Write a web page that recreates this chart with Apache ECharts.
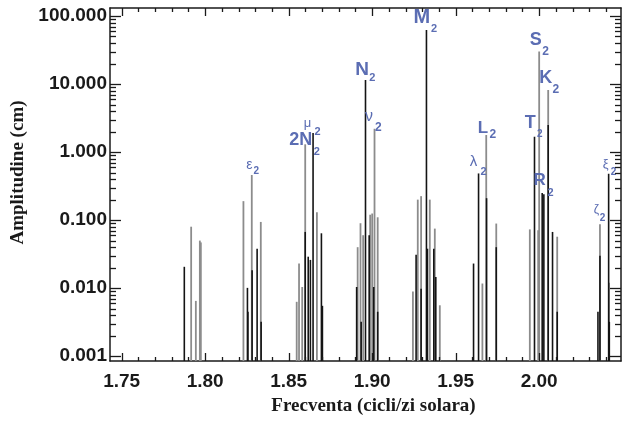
<!DOCTYPE html>
<html>
<head>
<meta charset="utf-8">
<script src="https://cdn.jsdelivr.net/npm/echarts@6/dist/echarts.min.js"></script>
<style>
  html, body { margin: 0; padding: 0; background: #ffffff; }
  #chart { width: 623px; height: 421px; }
</style>
</head>
<body>
<div id="chart"></div>
<script>
// Semidiurnal tidal spectrum: amplitude (cm) against frequency (cycles per solar day)

// Lines of the first (gray) spectrum
const grayFreq = [
  1.7916, 1.7944, 1.7968, 1.7974,
  1.8229, 1.8279, 1.8333,
  1.8548, 1.8562, 1.8581, 1.8599, 1.8669,
  1.8913, 1.8930, 1.8946, 1.8988, 1.9000, 1.9014, 1.9033,
  1.9244, 1.9273, 1.9293, 1.9345, 1.9375, 1.9405,
  1.9660, 1.9683, 1.9743,
  1.9944, 1.9994, 2.0000, 2.0054, 2.0108,
  2.0364, 2.0418
];
const grayAmp = [
  0.080, 0.0065, 0.050, 0.047,
  0.19, 0.46, 0.094,
  0.0063, 0.023, 0.0104, 1.3, 0.13,
  0.04, 0.09, 0.06, 0.12, 0.125, 2.2, 0.11,
  0.0089, 0.20, 0.225, 0.20, 0.075, 0.0056,
  0.0117, 1.78, 0.089,
  0.073, 0.071, 30, 8.2, 0.057,
  0.087, 0.012
];

// Lines of the second (black) spectrum
const blackFreq = [
  1.7875,
  1.8253, 1.8256, 1.8281, 1.8311, 1.8335,
  1.8599, 1.8617, 1.8630, 1.8646, 1.8696, 1.8702,
  1.8907, 1.8934, 1.8960, 1.8982, 1.9009, 1.9033,
  1.9263, 1.9293, 1.9325, 1.9331, 1.9369, 1.9381,
  1.9607, 1.9637, 1.9685, 1.9743,
  1.9972, 2.0018, 2.0028, 2.0054, 2.0080, 2.0108,
  2.0352, 2.0364, 2.0416, 2.0420
];
const blackAmp = [
  0.0206,
  0.0101, 0.0045, 0.0184, 0.038, 0.0032,
  0.067, 0.029, 0.026, 1.9, 0.064, 0.0055,
  0.0104, 0.0032, 11.5, 0.06, 0.0104, 0.0045,
  0.031, 0.0098, 62, 0.038, 0.038, 0.0146,
  0.023, 0.485, 0.21, 0.04,
  1.68, 0.25, 0.24, 2.5, 0.067, 0.0045,
  0.0045, 0.03, 0.48, 0.0032
];

// Constituent names, placed above their lines
const constituentSymbols = ['ε', '2N', 'μ', 'N', 'ν', 'M', 'λ', 'L', 'T', 'S', 'K', 'R', 'ζ', 'ξ'];
const constituentIndex   = ['2', '2', '2', '2', '2', '2', '2', '2', '2', '2', '2', '2', '2', '2'];
const constituentFreq    = [1.8279, 1.8599, 1.8646, 1.8960, 1.9014, 1.9325, 1.9637, 1.9683, 1.9972, 2.0000, 2.0054, 2.0028, 2.0364, 2.0416];
const constituentAmp     = [0.46, 1.3, 1.9, 11.5, 2.2, 62, 0.485, 1.78, 1.68, 30, 8.2, 0.24, 0.087, 0.48];

// Axis ticks and labels
const xTicks = [1.75, 1.80, 1.85, 1.90, 1.95, 2.00];
const xTickLabels = ['1.75', '1.80', '1.85', '1.90', '1.95', '2.00'];
const yTicks = [0.001, 0.01, 0.1, 1, 10, 100];
const yTickLabels = ['0.001', '0.010', '0.100', '1.000', '10.000', '100.000'];

// ---- layout / style ----
const X_MIN = 1.743, X_MAX = 2.049;
const Y_MIN = 0.00085, Y_MAX = 131;
const LABEL_BLUE = '#5b6db3';
const AXIS_COLOR = '#1a1a1a';

// label glyph offsets (px) from the line top: [main dx, main dy, sub dx, sub dy, main size, bold, sub size]
const labelLayout = {
  'ε':  [-2.3, -10, 4.6, -3.3, 14, false, 10],
  '2N': [-4.5, -4, 11.5, 7.5, 18, true, 11],
  'μ':  [-5.6, -10, 4.4, -1.3, 13, false, 11],
  'N':  [-3.5, -10, 6.9, -1.5, 19, true, 11],
  'ν':  [-5.5, -12, 3.7, -1.3, 16, false, 12],
  'M':  [-4.5, -12.5, 7.5, -1.5, 20, true, 11],
  'λ':  [-5, -11.8, 5, -1, 15, false, 11],
  'L':  [-3.3, -7, 6.5, 0, 17, true, 12],
  'T':  [-4.3, -13.4, 5.2, -2.7, 18, true, 10],
  'S':  [-3.5, -11.7, 6.5, 0.3, 18, true, 12],
  'K':  [-2.5, -11.5, 7.7, 0, 18, true, 12],
  'R':  [-4.2, -13.7, 6.6, -1.2, 17, true, 11],
  'ζ':  [-3.5, -15, 2.5, -6, 12, false, 10],
  'ξ':  [-3, -9, 5, -1.3, 13, false, 10]
};

// tick marks on all four sides: x every 0.01, y at 1..9 per decade
const xTickMarks = [];
for (let k = 175; k <= 204; k++) xTickMarks.push(k / 100);
const yTickMarks = [];
for (let e = -3; e <= 2; e++) {
  for (let m = 1; m <= 9; m++) {
    const v = m * Math.pow(10, e);
    if (v > Y_MIN && v < Y_MAX) yTickMarks.push(v);
  }
}
const isMajor = (v, list) => list.some(t => Math.abs(t - v) / t < 1e-6);

const pair = (a, b) => a.map((v, i) => [v, b[i]]);

function stemRenderer(color, width) {
  return function (params, api) {
    const top = api.coord([api.value(0), api.value(1)]);
    const base = api.coord([api.value(0), Y_MIN]);
    return {
      type: 'line',
      shape: { x1: top[0], y1: base[1], x2: top[0], y2: top[1] },
      style: { stroke: color, lineWidth: width }
    };
  };
}

function labelRenderer(params, api) {
  const i = params.dataIndex;
  const sym = constituentSymbols[i];
  const lay = labelLayout[sym];
  const p = api.coord([api.value(0), api.value(1)]);
  const fam = '"Liberation Sans", Arial, sans-serif';
  return {
    type: 'group',
    children: [
      {
        type: 'text',
        x: p[0] + lay[0], y: p[1] + lay[1],
        style: {
          text: sym, fill: LABEL_BLUE,
          font: (lay[5] ? 'bold ' : '') + lay[4] + 'px ' + fam,
          align: 'center', verticalAlign: 'middle'
        }
      },
      {
        type: 'text',
        x: p[0] + lay[2], y: p[1] + lay[3],
        style: {
          text: constituentIndex[i], fill: LABEL_BLUE,
          font: 'bold ' + lay[6] + 'px ' + fam,
          align: 'center', verticalAlign: 'middle'
        }
      }
    ]
  };
}

const tickFont = { color: AXIS_COLOR, fontFamily: '"Liberation Sans", Arial, sans-serif', fontWeight: 'bold', fontSize: 19 };
const titleFont = { color: AXIS_COLOR, fontFamily: '"Liberation Serif", "Times New Roman", serif', fontWeight: 'bold', fontSize: 19 };
const lineStyle = { color: AXIS_COLOR, width: 1.5 };

function xAxisDef(position) {
  return {
    type: 'value', position: position, min: X_MIN, max: X_MAX,
    axisLine: { show: true, onZero: false, lineStyle: lineStyle },
    axisTick: { show: false },
    axisLabel: { show: false },
    splitLine: { show: false }
  };
}
function yAxisDef(position) {
  return {
    type: 'log', logBase: 10, position: position, min: Y_MIN, max: Y_MAX,
    axisLine: { show: true, onZero: false, lineStyle: lineStyle },
    axisTick: { show: false },
    axisLabel: { show: false },
    splitLine: { show: false },
    minorTick: { show: false }
  };
}

const xMain = xAxisDef('bottom');
xMain.axisLabel = Object.assign({
  show: true, margin: 11, customValues: xTicks,
  formatter: v => { const k = xTicks.findIndex(t => Math.abs(t - v) < 1e-9); return k >= 0 ? xTickLabels[k] : ''; }
}, tickFont);
xMain.name = 'Frecventa (cicli/zi solara)';
xMain.nameLocation = 'middle';
xMain.nameGap = 36;
xMain.nameTextStyle = Object.assign({ padding: [0, 0, 0, 16] }, titleFont);

const yMain = yAxisDef('left');
yMain.axisLabel = Object.assign({
  show: true, margin: 3, customValues: yTicks,
  formatter: v => { const k = yTicks.findIndex(t => Math.abs(Math.log10(t) - Math.log10(v)) < 1e-6); return k >= 0 ? yTickLabels[k] : ''; }
}, tickFont);
yMain.name = 'Amplitudine (cm)';
yMain.nameLocation = 'middle';
yMain.nameGap = 80;
yMain.nameTextStyle = Object.assign({ padding: [0, 0, 0, 24] }, titleFont);

const chart = echarts.init(document.getElementById('chart'), null, { renderer: 'canvas' });
chart.setOption({
  animation: false,
  backgroundColor: '#ffffff',
  grid: { left: 110, right: 2, top: 8, bottom: 60, containLabel: false },
  xAxis: [xMain, xAxisDef('top')],
  yAxis: [yMain, yAxisDef('right')],
  series: [
    {
      name: 'gray', type: 'custom', xAxisIndex: 0, yAxisIndex: 0,
      renderItem: stemRenderer('#8c8c8c', 1.8), data: pair(grayFreq, grayAmp), z: 2
    },
    {
      name: 'black', type: 'custom', xAxisIndex: 0, yAxisIndex: 0,
      renderItem: stemRenderer('#141414', 1.6), data: pair(blackFreq, blackAmp), z: 3
    },
    {
      name: 'labels', type: 'custom', xAxisIndex: 0, yAxisIndex: 0,
      renderItem: labelRenderer, data: pair(constituentFreq, constituentAmp), z: 5, silent: true
    }
  ]
});

// Inward tick marks on the four frame edges, placed through the chart's own scales
const toPx = (x, y) => chart.convertToPixel({ xAxisIndex: 0, yAxisIndex: 0 }, [x, y]);
const tickLines = [];
const tickStyle = { stroke: AXIS_COLOR, lineWidth: 1.3 };
xTickMarks.forEach(v => {
  const len = isMajor(v, xTicks) ? 8 : 4;
  const b = toPx(v, Y_MIN), t = toPx(v, Y_MAX);
  const x = Math.round(b[0]) + 0.5;
  tickLines.push({ type: 'line', shape: { x1: x, y1: b[1], x2: x, y2: b[1] - len }, style: tickStyle, z: 10 });
  tickLines.push({ type: 'line', shape: { x1: x, y1: t[1], x2: x, y2: t[1] + len }, style: tickStyle, z: 10 });
});
yTickMarks.forEach(v => {
  const len = isMajor(v, yTicks) ? 11 : 6;
  const l = toPx(X_MIN, v), r = toPx(X_MAX, v);
  const y = Math.round(l[1]) + 0.5;
  tickLines.push({ type: 'line', shape: { x1: l[0], y1: y, x2: l[0] + len, y2: y }, style: tickStyle, z: 10 });
  tickLines.push({ type: 'line', shape: { x1: r[0], y1: y, x2: r[0] - len, y2: y }, style: tickStyle, z: 10 });
});
chart.setOption({ graphic: tickLines });
</script>
</body>
</html>
